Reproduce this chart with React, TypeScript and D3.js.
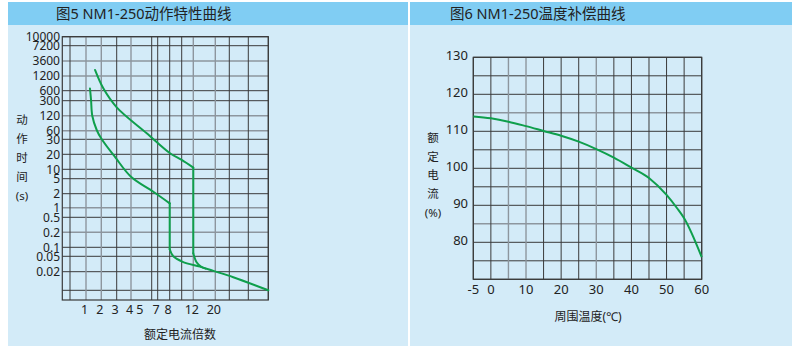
import React from 'react';
import * as d3 from 'd3';

// ---- chart 5: trip characteristic (multiple of rated current vs seconds)
const tripTimeTicks = [10000, 7200, 3600, 1200, 600, 300, 120, 60, 30, 20, 10, 5, 2, 1, 0.5, 0.2, 0.1, 0.05, 0.02];
const tripTimeExtra = [0.01, 0.005];
const multipleTicks = [1, 2, 3, 4, 5, 7, 8, 12, 20];
const multipleGrid = [0.5, 1, 2, 3, 4, 6, 7, 8, 10, 12, 20, 30, 40, 50];

const lowerMultiple = [1.26, 1.33, 1.41, 1.7, 2.03, 2.9, 4.0, 6.27, 8, 8, 8.6, 10.17, 14.4, 19.3, 32.1, 50];
const lowerSeconds = [665, 315, 120, 62, 30, 17.5, 5.8, 2.25, 1.24, 0.086, 0.05, 0.036, 0.027, 0.021, 0.0163, 0.01];
const upperMultiple = [1.59, 2.13, 3.0, 5.52, 8.05, 10.0, 12, 12, 13.2, 14.8, 16.5];
const upperSeconds = [1870, 670, 200, 48.8, 20.6, 15.4, 10.8, 0.063, 0.035, 0.027, 0.024];

// ---- chart 6: temperature compensation
const tempTicks = [-5, 0, 10, 20, 30, 40, 50, 60];
const pctTicks = [130, 120, 110, 100, 90, 80];
const ambientTemp = [-5, 0, 5, 10, 15, 20, 25, 30, 35, 40, 45, 50, 53, 55, 60];
const ratedPct = [114, 113.5, 112.6, 111.4, 110.1, 108.8, 107.2, 105.2, 102.9, 100.2, 97.4, 92.8, 89.2, 86.5, 76];

const HEADER = '#80cdf3';
const BODY = '#d3ebf8';
const DARK = '#3a3a3a';
const GRAY = '#8d969e';
const GREEN = '#0f9f4c';
const FONT = '"Noto Sans", "Noto Sans CJK SC", sans-serif';

const LeftChart = () => {
  // hand-drawn non-uniform grid: piecewise scales
  const yVals = [...tripTimeTicks, ...tripTimeExtra];
  const y = d3.scaleLinear()
    .domain(yVals.map(v => Math.log10(v)))
    .range([36.7, 45.7, 61, 76, 90.7, 100.7, 115.7, 130.7, 139.3, 154.3, 169.3, 178.7, 193.7, 207.7, 217.3, 232.3, 247.3, 256.3, 271.7, 290.3, 300]);
  const ys = (v: number) => y(Math.log10(v));
  const x = d3.scaleLinear()
    .domain([0, ...multipleGrid])
    .range([62.3, 70, 86, 101.3, 116.7, 131, 151.7, 157.7, 169.7, 181.7, 193.3, 215.3, 229.3, 248.3, 268.3]);
  const grayH = new Set([3600, 1200, 120, 60, 1, 0.2]);
  const grayV = new Set([1, 2, 4, 12, 20]);

  // smooth bends, straight vertical drop (the instantaneous trip)
  const pieces = (xs: number[], ss: number[]) => {
    const drop = xs.findIndex((v, i) => i > 0 && v === xs[i - 1]);
    const seg = (from: number, to: number, c: d3.CurveFactory) =>
      d3.line<number>()
        .x(d => x(xs[d]))
        .y(d => ys(ss[d]))
        .curve(c)(d3.range(from, to + 1)) || '';
    return [
      seg(0, drop - 1, d3.curveCatmullRom.alpha(0.5)),
      seg(drop - 1, drop, d3.curveLinear),
      seg(drop, xs.length - 1, d3.curveCatmullRom.alpha(0.5)),
    ];
  };
  const x0 = x(0), x1 = x(50), y0 = ys(10000), y1 = ys(0.005);
  return (
    <g>
      <rect x={8} y={2} width={400} height={344} fill={BODY} />
      <rect x={8} y={2} width={400} height={23} fill={HEADER} />
      <text x={56} y={19} fontSize={14.5} fill="#222">图5 NM1-250动作特性曲线</text>
      {[...tripTimeTicks, 0.01].map(v => (
        <line key={'h' + v} x1={x0} x2={x1} y1={ys(v)} y2={ys(v)}
          stroke={grayH.has(v) ? GRAY : DARK} strokeWidth={grayH.has(v) ? 1.4 : 1} />
      ))}
      {multipleGrid.map(v => (
        <line key={'v' + v} x1={x(v)} x2={x(v)} y1={y0} y2={y1}
          stroke={grayV.has(v) ? GRAY : DARK} strokeWidth={grayV.has(v) ? 1.4 : 1} />
      ))}
      <rect x={x0} y={y0} width={x1 - x0} height={y1 - y0} fill="none" stroke={DARK} strokeWidth={1.2} />
      {tripTimeTicks.map(v => (
        <text key={'yl' + v} x={60} y={ys(v)} dy="0.36em" textAnchor="end" fontSize={12} fill="#222">{v}</text>
      ))}
      {multipleTicks.map(v => (
        <text key={'xl' + v} x={x(v) - 1.5} y={309} dy="0.36em" textAnchor="middle" fontSize={12.5} fill="#222">{v}</text>
      ))}
      {['动', '作', '时', '间', '(s)'].map((c, i) => (
        <text key={c} x={22} y={120 + i * 19} dy="0.36em" textAnchor="middle" fontSize={11.5} fill="#222">{c}</text>
      ))}
      <text x={180} y={335} dy="0.36em" textAnchor="middle" fontSize={12} fill="#222">额定电流倍数</text>
      {[...pieces(lowerMultiple, lowerSeconds), ...pieces(upperMultiple, upperSeconds)].map((d, i) => (
        <path key={'c' + i} d={d} fill="none" stroke={GREEN} strokeWidth={2} strokeLinecap="round" strokeLinejoin="round" />
      ))}
    </g>
  );
};

const RightChart = () => {
  const x = d3.scaleLinear().domain([-5, 60]).range([473.3, 701.7]);
  const y = d3.scaleLinear().domain([70, 130]).range([279.3, 57.3]);
  const gridT = d3.range(-5, 61, 5);
  const gridP = d3.range(70, 131, 5);
  const grayV = new Set([5, 10, 30]);
  const grayH = new Set([115, 85]);
  const curve = d3.line<number>()
    .x(i => x(ambientTemp[i]))
    .y(i => y(ratedPct[i]))
    .curve(d3.curveMonotoneX)(d3.range(ambientTemp.length)) || '';
  return (
    <g>
      <rect x={410} y={2} width={382} height={344} fill={BODY} />
      <rect x={410} y={2} width={382} height={23} fill={HEADER} />
      <text x={450} y={19} fontSize={14.5} fill="#222">图6 NM1-250温度补偿曲线</text>
      {gridP.map(v => (
        <line key={'h' + v} x1={x(-5)} x2={x(60)} y1={y(v)} y2={y(v)}
          stroke={grayH.has(v) ? GRAY : DARK} strokeWidth={grayH.has(v) ? 1.4 : 1} />
      ))}
      {gridT.map(v => (
        <line key={'v' + v} x1={x(v)} x2={x(v)} y1={y(130)} y2={y(70)}
          stroke={grayV.has(v) ? GRAY : DARK} strokeWidth={grayV.has(v) ? 1.4 : 1} />
      ))}
      <rect x={x(-5)} y={y(130)} width={x(60) - x(-5)} height={y(70) - y(130)} fill="none" stroke={DARK} strokeWidth={1.2} />
      {pctTicks.map(v => (
        <text key={'yl' + v} x={468} y={y(v) - 2} dy="0.36em" textAnchor="end" fontSize={13} fill="#222">{v}</text>
      ))}
      {tempTicks.map(v => (
        <text key={'xl' + v} x={x(v)} y={289} dy="0.36em" textAnchor="middle" fontSize={13} fill="#222">{v}</text>
      ))}
      {['额', '定', '电', '流', '(%)'].map((c, i) => (
        <text key={c} x={433} y={138 + i * 18.6} dy="0.36em" textAnchor="middle" fontSize={11.5} fill="#222">{c}</text>
      ))}
      <text x={588} y={316.5} dy="0.36em" textAnchor="middle" fontSize={12} fill="#222">周围温度(℃)</text>
      <path d={curve} fill="none" stroke={GREEN} strokeWidth={2} />
    </g>
  );
};

export default function App() {
  return (
    <svg width={800} height={351} style={{ position: 'absolute', left: 0, top: 0, fontFamily: FONT }}>
      <rect width={800} height={351} fill="#fff" />
      <LeftChart />
      <RightChart />
    </svg>
  );
}
